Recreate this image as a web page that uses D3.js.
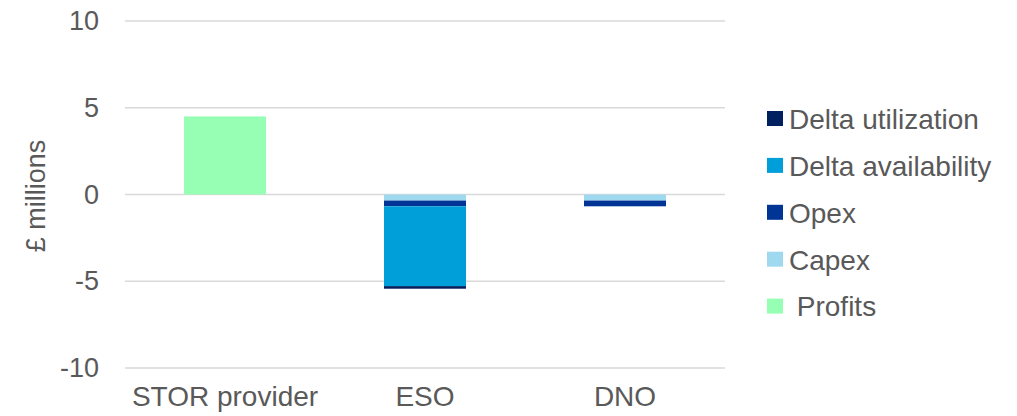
<!DOCTYPE html>
<html>
<head>
<meta charset="utf-8">
<script src="https://cdn.jsdelivr.net/npm/d3@7"></script>
<style>
  html, body { margin: 0; padding: 0; background: #fff; }
  svg { display: block; font-family: "Liberation Sans", Arial, sans-serif; }
</style>
</head>
<body>
<svg id="chart" width="1017" height="416"></svg>
<script>
// Cost and profit breakdown by party (£ millions)
const categories = ["STOR provider", "ESO", "DNO"];
const profits = [4.5, 0, 0];
const capex = [0, -0.35, -0.35];
const opex = [0, -0.33, -0.33];
const deltaAvailability = [0, -4.6, 0];
const deltaUtilization = [0, -0.15, 0];
const yTicks = [-10, -5, 0, 5, 10];

// Stacking order away from zero; legend lists them in reverse
const seriesKeys = ["Capex", "Opex", "Delta availability", "Delta utilization", "Profits"];
const seriesValues = {
  "Capex": capex,
  "Opex": opex,
  "Delta availability": deltaAvailability,
  "Delta utilization": deltaUtilization,
  "Profits": profits
};
const colors = {
  "Delta utilization": "#002060",
  "Delta availability": "#009FDA",
  "Opex": "#003595",
  "Capex": "#9FD9EF",
  "Profits": "#96FFB4"
};
const legendKeys = ["Delta utilization", "Delta availability", "Opex", "Capex", "Profits"];
const legendLabels = {
  "Delta utilization": "Delta utilization",
  "Delta availability": "Delta availability",
  "Opex": "Opex",
  "Capex": "Capex",
  "Profits": " Profits"
};

const FONT = 27;
const LABEL_FONT = 28;
const TEXT = "#595959";

const rows = categories.map((c, i) => {
  const r = { category: c };
  seriesKeys.forEach(k => r[k] = seriesValues[k][i]);
  return r;
});

const svg = d3.select("#chart");
const plot = { left: 125, right: 725, top: 21, bottom: 368 };

const x = d3.scaleBand().domain(categories).range([plot.left, plot.right]).paddingInner(0.59).paddingOuter(0.295);
const y = d3.scaleLinear().domain([-10, 10]).range([plot.bottom, plot.top]);

// Gridlines
svg.append("g")
  .selectAll("line")
  .data(yTicks)
  .join("line")
  .attr("x1", plot.left).attr("x2", plot.right)
  .attr("y1", d => y(d)).attr("y2", d => y(d))
  .attr("stroke", "#d9d9d9").attr("stroke-width", 1.5);

// Y axis labels (plain hyphen for negatives)
const yAxis = svg.append("g")
  .attr("transform", `translate(${plot.left},0)`)
  .call(d3.axisLeft(y).tickValues(yTicks).tickSize(0).tickPadding(26).tickFormat(d => String(d)));
yAxis.select(".domain").remove();
yAxis.selectAll("text").attr("font-size", FONT).attr("fill", TEXT)
  .attr("font-family", "Liberation Sans, Arial, sans-serif");

// Stacked bars
const stack = d3.stack().keys(seriesKeys).offset(d3.stackOffsetDiverging);
const stacked = stack(rows);

svg.append("g")
  .selectAll("g")
  .data(stacked)
  .join("g")
  .attr("fill", d => colors[d.key])
  .selectAll("rect")
  .data(d => d)
  .join("rect")
  .attr("x", d => x(d.data.category))
  .attr("width", x.bandwidth())
  .attr("y", d => y(Math.max(d[0], d[1])))
  .attr("height", d => Math.abs(y(d[0]) - y(d[1])));

// X axis labels
const xAxis = svg.append("g")
  .attr("transform", `translate(0,${plot.bottom})`)
  .call(d3.axisBottom(x).tickSize(0).tickPadding(18));
xAxis.select(".domain").remove();
xAxis.selectAll("text").attr("font-size", LABEL_FONT).attr("fill", TEXT)
  .attr("font-family", "Liberation Sans, Arial, sans-serif");

// Y axis title
svg.append("text")
  .attr("transform", "translate(45,196) rotate(-90)")
  .attr("text-anchor", "middle")
  .attr("font-size", FONT)
  .attr("fill", TEXT)
  .text("£ millions");

// Legend
const legend = svg.append("g").attr("transform", "translate(767,119)");
const item = legend.selectAll("g")
  .data(legendKeys)
  .join("g")
  .attr("transform", (d, i) => `translate(0,${i * 46.9})`);
item.append("rect")
  .attr("x", 0).attr("y", -8)
  .attr("width", 16).attr("height", 15)
  .attr("fill", d => colors[d]);
item.append("text")
  .attr("x", 22).attr("y", 0)
  .attr("dy", "0.35em")
  .attr("font-size", LABEL_FONT)
  .attr("fill", TEXT)
  .attr("xml:space", "preserve")
  .style("white-space", "pre")
  .text(d => legendLabels[d]);
</script>
</body>
</html>
